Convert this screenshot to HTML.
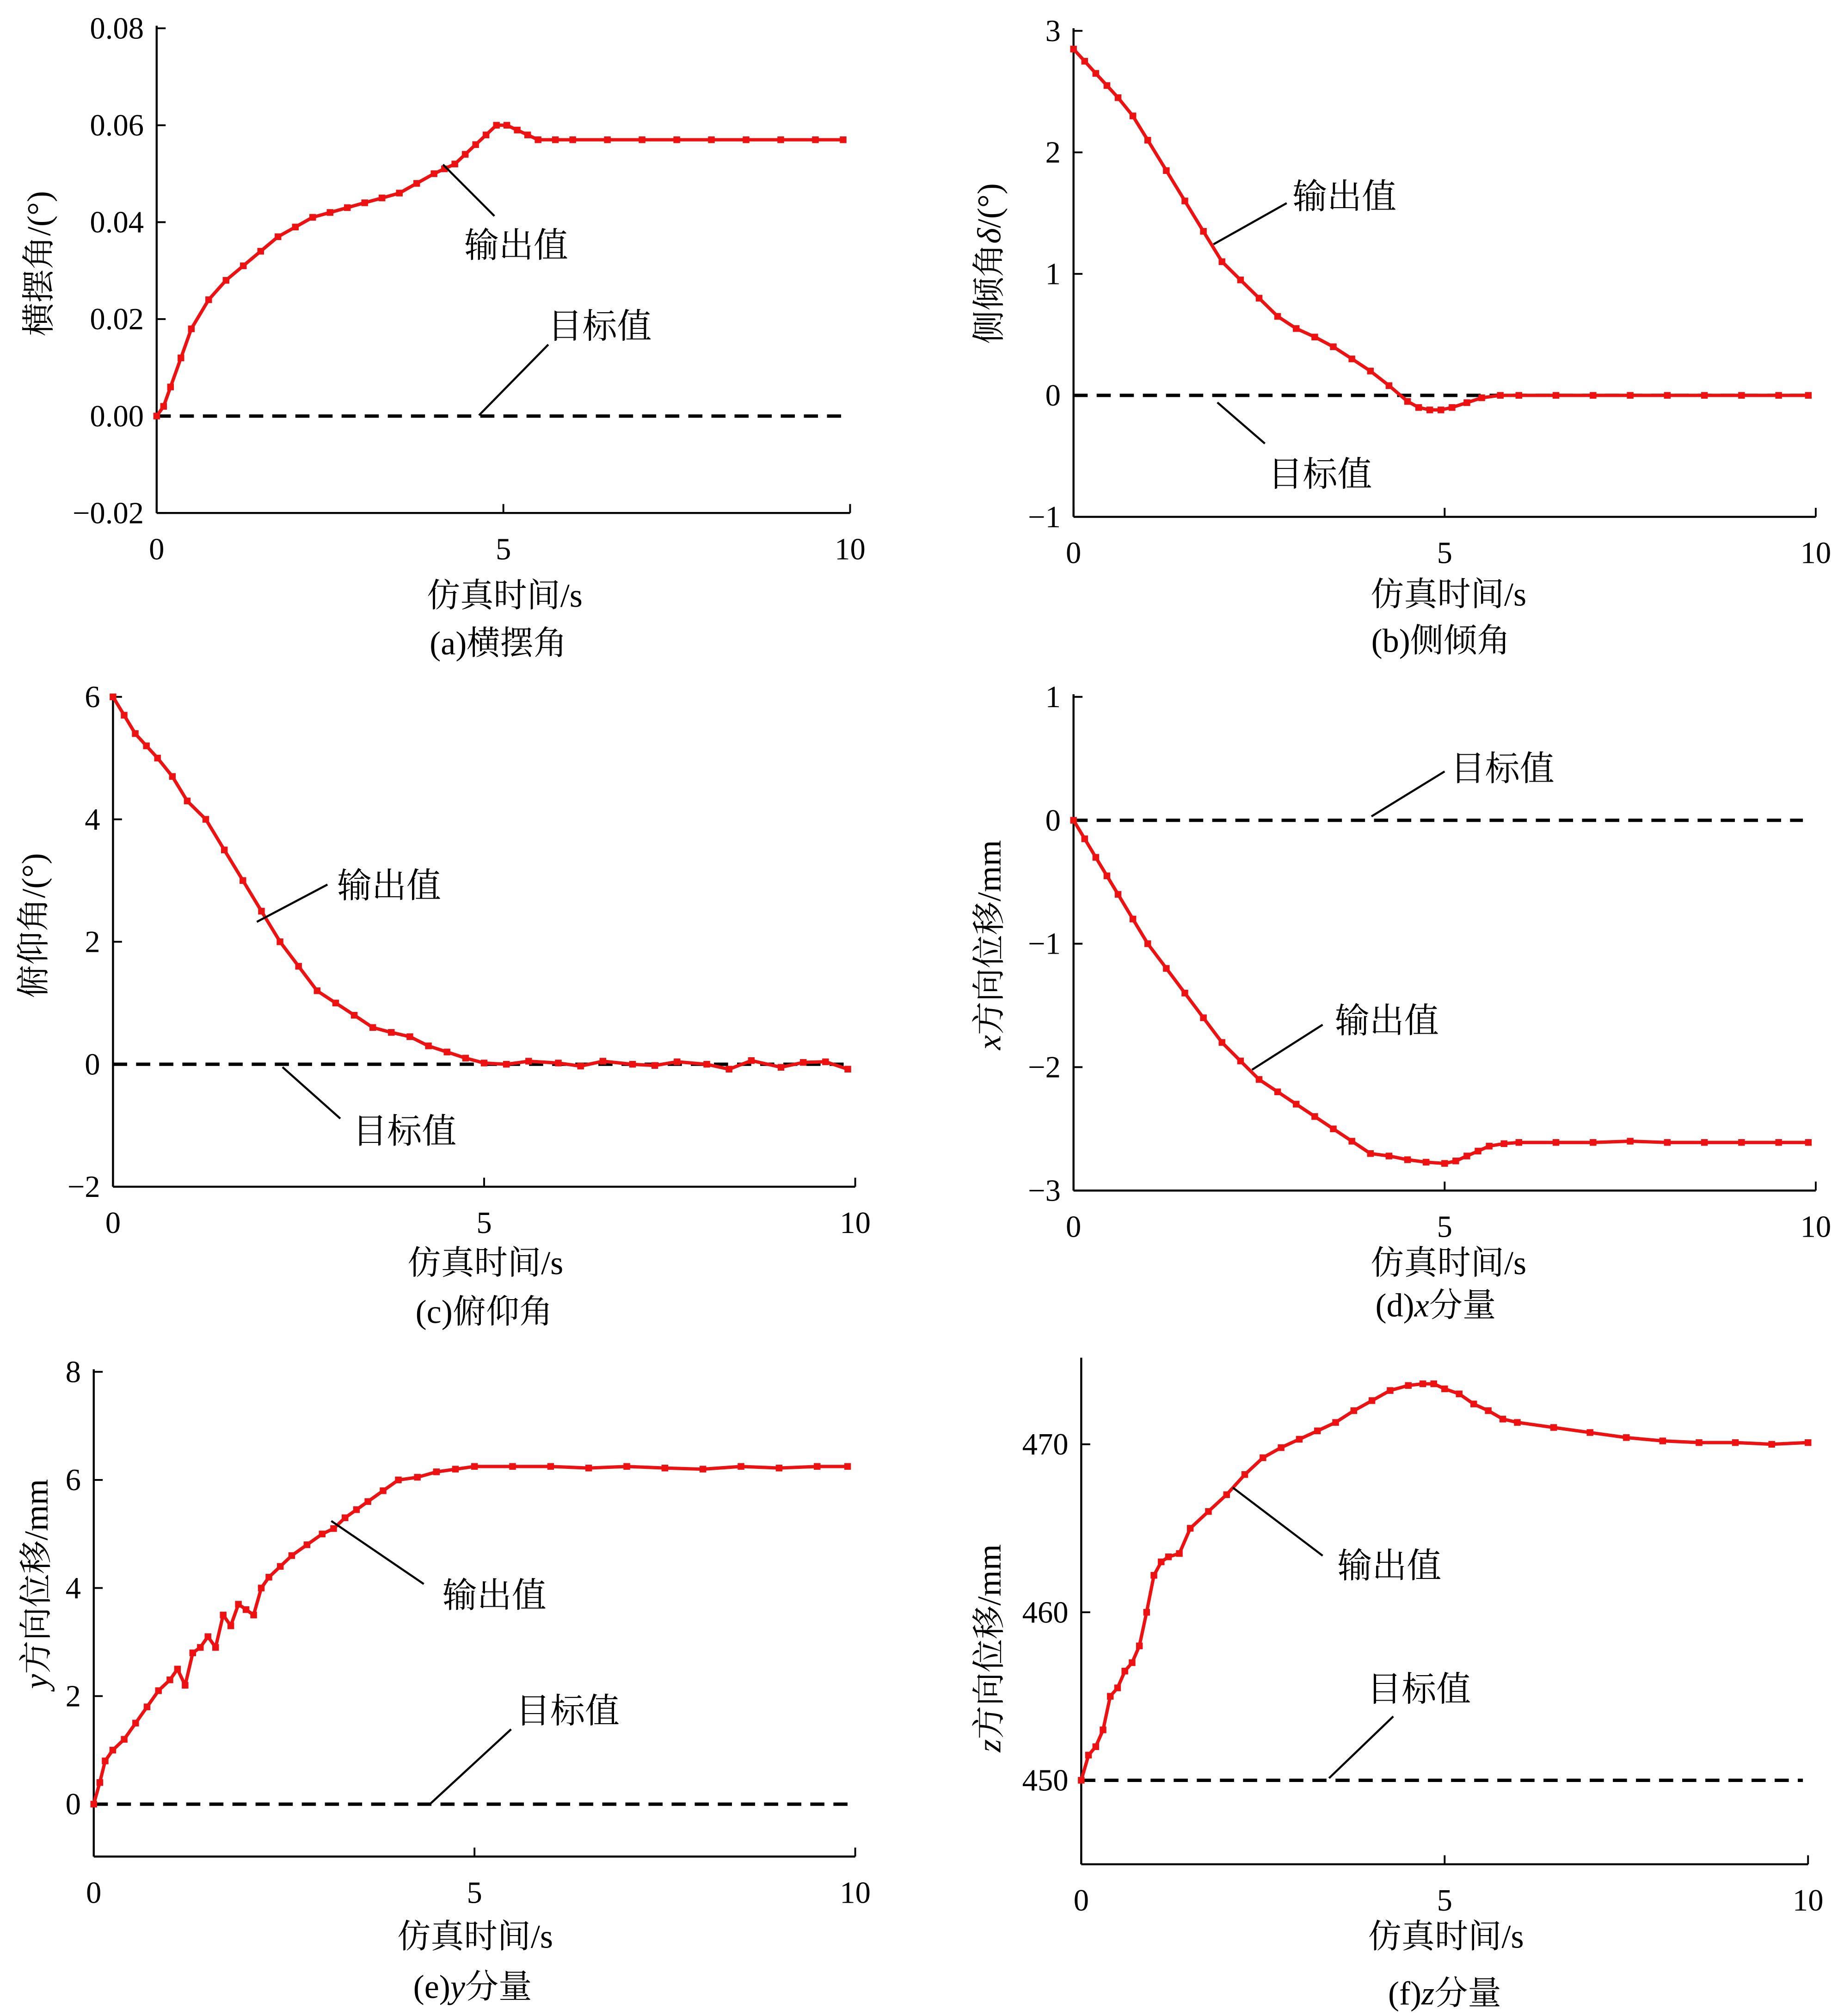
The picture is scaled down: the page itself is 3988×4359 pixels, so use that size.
<!DOCTYPE html>
<html><head><meta charset="utf-8">
<style>
html,body{margin:0;padding:0;background:#fff;}
svg{display:block;}
text{font-family:"Liberation Serif","Noto Serif CJK SC",serif;fill:#000;}
</style></head>
<body>
<svg id="chart" width="3988" height="4359" viewBox="0 0 1436 1568" preserveAspectRatio="none" xmlns="http://www.w3.org/2000/svg"></svg>
<script>
// Panel (a) yaw angle
const aT=[0,0.1,0.2,0.35,0.5,0.75,1,1.25,1.5,1.75,2,2.25,2.5,2.75,3,3.25,3.5,3.75,4,4.15,4.3,4.45,4.6,4.75,4.9,5.05,5.2,5.35,5.5,5.75,6,6.5,7,7.5,8,8.5,9,9.5,9.9];
const aV=[0,0.002,0.006,0.012,0.018,0.024,0.028,0.031,0.034,0.037,0.039,0.041,0.042,0.043,0.044,0.045,0.046,0.048,0.050,0.051,0.052,0.054,0.056,0.058,0.060,0.060,0.059,0.058,0.057,0.057,0.057,0.057,0.057,0.057,0.057,0.057,0.057,0.057,0.057];
const aTicksY=[0.08,0.06,0.04,0.02,0,-0.02];
const aTickLabY=["0.08","0.06","0.04","0.02","0.00","\u22120.02"];
// Panel (b) roll angle
const bT=[0,0.15,0.3,0.45,0.6,0.8,1,1.25,1.5,1.75,2,2.25,2.5,2.75,3,3.25,3.5,3.75,4,4.25,4.5,4.65,4.8,4.95,5.1,5.3,5.5,5.75,6,6.5,7,7.5,8,8.5,9,9.5,9.9];
const bV=[2.85,2.75,2.65,2.55,2.45,2.3,2.1,1.85,1.6,1.35,1.1,0.95,0.8,0.65,0.55,0.48,0.4,0.3,0.2,0.08,-0.05,-0.1,-0.12,-0.12,-0.1,-0.06,-0.02,0,0,0,0,0,0,0,0,0,0];
const bTicksY=[3,2,1,0,-1];
const bTickLabY=["3","2","1","0","\u22121"];
// Panel (c) pitch angle
const cT=[0,0.15,0.3,0.45,0.6,0.8,1,1.25,1.5,1.75,2,2.25,2.5,2.75,3,3.25,3.5,3.75,4,4.25,4.5,4.75,5,5.3,5.6,6,6.3,6.6,7,7.3,7.6,8,8.3,8.6,9,9.3,9.6,9.9];
const cV=[6,5.7,5.4,5.2,5.0,4.7,4.3,4.0,3.5,3.0,2.5,2.0,1.6,1.2,1.0,0.8,0.6,0.52,0.45,0.3,0.2,0.1,0.02,0.0,0.05,0.02,-0.03,0.05,0.0,-0.02,0.04,0.0,-0.08,0.06,-0.05,0.03,0.04,-0.08];
const cTicksY=[6,4,2,0,-2];
const cTickLabY=["6","4","2","0","\u22122"];
// Panel (d) x displacement
const dT=[0,0.15,0.3,0.45,0.6,0.8,1,1.25,1.5,1.75,2,2.25,2.5,2.75,3,3.25,3.5,3.75,4,4.25,4.5,4.75,5,5.15,5.3,5.45,5.6,5.8,6,6.5,7,7.5,8,8.5,9,9.5,9.9];
const dV=[0,-0.15,-0.3,-0.45,-0.6,-0.8,-1.0,-1.2,-1.4,-1.6,-1.8,-1.95,-2.1,-2.2,-2.3,-2.4,-2.5,-2.6,-2.7,-2.72,-2.75,-2.77,-2.78,-2.76,-2.72,-2.68,-2.64,-2.62,-2.61,-2.61,-2.61,-2.6,-2.61,-2.61,-2.61,-2.61,-2.61];
const dTicksY=[1,0,-1,-2,-3];
const dTickLabY=["1","0","\u22121","\u22122","\u22123"];
// Panel (e) y displacement
const eT=[0,0.08,0.15,0.25,0.4,0.55,0.7,0.85,1,1.1,1.2,1.3,1.4,1.5,1.6,1.7,1.8,1.9,2,2.1,2.2,2.3,2.45,2.6,2.8,3,3.15,3.3,3.45,3.6,3.8,4,4.25,4.5,4.75,5,5.5,6,6.5,7,7.5,8,8.5,9,9.5,9.9];
const eV=[0,0.4,0.8,1.0,1.2,1.5,1.8,2.1,2.3,2.5,2.2,2.8,2.9,3.1,2.9,3.5,3.3,3.7,3.6,3.5,4.0,4.2,4.4,4.6,4.8,5.0,5.1,5.3,5.45,5.6,5.8,6.0,6.05,6.15,6.2,6.25,6.25,6.25,6.22,6.25,6.22,6.2,6.25,6.22,6.25,6.25];
const eTicksY=[8,6,4,2,0];
const eTickLabY=["8","6","4","2","0"];
// Panel (f) z displacement
const fT=[0,0.1,0.2,0.3,0.4,0.5,0.6,0.7,0.8,0.9,1,1.1,1.2,1.35,1.5,1.75,2,2.25,2.5,2.75,3,3.25,3.5,3.75,4,4.25,4.5,4.7,4.85,5,5.2,5.4,5.6,5.8,6,6.5,7,7.5,8,8.5,9,9.5,10];
const fV=[450,451.5,452,453,455,455.5,456.5,457,458,460,462.2,463,463.3,463.5,465,466,467,468.2,469.2,469.8,470.3,470.8,471.3,472,472.6,473.2,473.5,473.6,473.6,473.3,473,472.4,472,471.5,471.3,471,470.7,470.4,470.2,470.1,470.1,470,470.1];
const fTicksY=[470,460,450];
const fTickLabY=["470","460","450"];
const xTicks=[0,5,10];

const NS="http://www.w3.org/2000/svg";
const svg=document.getElementById('chart');
function mk(tag,attrs,parent){const e=document.createElementNS(NS,tag);for(const k in attrs)e.setAttribute(k,attrs[k]);(parent||svg).appendChild(e);return e;}
function addParts(t,parts){parts.forEach(pt=>{const s=document.createElementNS(NS,'tspan');s.textContent=pt[0];if(pt[1])s.setAttribute('font-style','italic');t.appendChild(s);});}

const panels=[
 {id:'a',T:aT,V:aV,ty:aTicksY,tl:aTickLabY,x0:122,x1:662,ax:662,yTop:0.08,yBot:-0.02,pTop:22,pBot:399,target:0,
  ylab:[['横摆角/(°)',0]],ylx:30,yly:205,xlab:[393,463],cap:[['(a)横摆角',0]],capxy:[388,500],
  out:{t:[402,190],l:[345,128,385,168]},tg:{t:[467,253],l:[373,323,427,268]},tgEnd:657},
 {id:'b',T:bT,V:bV,ty:bTicksY,tl:bTickLabY,x0:836,x1:1414,ax:1414,yTop:3,yBot:-1,pTop:24,pBot:402,target:0,
  ylab:[['侧倾角',0],['δ',1],['/(°)',0]],ylx:770,yly:205,xlab:[1128,462],cap:[['(b)侧倾角',0]],capxy:[1122,498],
  out:{t:[1047,152],l:[945,190,1002,158]},tg:{t:[1028,368],l:[948,313,985,345]},tgEnd:1408},
 {id:'c',T:cT,V:cV,ty:cTicksY,tl:cTickLabY,x0:88,x1:666,ax:666,yTop:6,yBot:-2,pTop:542,pBot:923,target:0,
  ylab:[['俯仰角/(°)',0]],ylx:26,yly:720,xlab:[378,982],cap:[['(c)俯仰角',0]],capxy:[377,1020],
  out:{t:[303,688],l:[200,717,255,688]},tg:{t:[315,879],l:[220,830,265,870]},tgEnd:660},
 {id:'d',T:dT,V:dV,ty:dTicksY,tl:dTickLabY,x0:836,x1:1414,ax:1414,yTop:1,yBot:-3,pTop:542,pBot:926,target:0,
  ylab:[['x',1],['方向位移/mm',0]],ylx:770,yly:735,xlab:[1128,982],cap:[['(d)',0],['x',1],['分量',0]],capxy:[1118,1015],
  out:{t:[1080,793],l:[975,832,1030,797]},tg:{t:[1170,597],l:[1068,635,1125,600]},tgEnd:1404},
 {id:'e',T:eT,V:eV,ty:eTicksY,tl:eTickLabY,x0:73,x1:666,ax:666,yTop:8,yBot:-0.97,pTop:1067,pBot:1444,target:0,
  ylab:[['y',1],['方向位移/mm',0]],ylx:28,yly:1232,xlab:[370,1506],cap:[['(e)',0],['y',1],['分量',0]],capxy:[368,1545],
  out:{t:[385,1240],l:[258,1183,330,1232]},tg:{t:[442,1330],l:[335,1403,398,1345]},tgEnd:660},
 {id:'f',T:fT,V:fV,ty:fTicksY,tl:fTickLabY,x0:842,x1:1408,ax:1408,yTop:475,yBot:445,pTop:1058,pBot:1450,target:450,
  ylab:[['z',1],['方向位移/mm',0]],ylx:770,yly:1282,xlab:[1126,1506],cap:[['(f)',0],['z',1],['分量',0]],capxy:[1125,1550],
  out:{t:[1082,1217],l:[960,1157,1030,1210]},tg:{t:[1105,1313],l:[1035,1383,1085,1335]},tgEnd:1404}
];

panels.forEach(p=>{
  const g=mk('g',{});
  
  
  const xs=t=>p.x0+(p.x1-p.x0)*t/10;
  const ys=v=>p.pTop+(p.pBot-p.pTop)*(p.yTop-v)/(p.yTop-p.yBot);
  const ya=mk('line',{x1:p.x0,y1:p.pTop-2,x2:p.x0,y2:p.pBot,stroke:'#000','stroke-width':1.6},g);
  
  
  const xa=mk('line',{x1:p.x0,y1:p.pBot,x2:p.ax,y2:p.pBot,stroke:'#000','stroke-width':1.6},g);
  
  
  p.ty.forEach((v,i)=>{
    const y=ys(v);
    mk('line',{x1:p.x0,y1:y,x2:p.x0+7,y2:y,stroke:'#000','stroke-width':1.4},g);
    const t=mk('text',{x:p.x0-10,y:y+8,'text-anchor':'end','font-size':24},g);
    t.textContent=p.tl[i];
    
    
  });
  xTicks.forEach(v=>{
    const x=xs(v);
    mk('line',{x1:x,y1:p.pBot,x2:x,y2:p.pBot-7,stroke:'#000','stroke-width':1.4},g);
    const t=mk('text',{x:x,y:p.pBot+36,'text-anchor':'middle','font-size':24},g);
    t.textContent=String(v);
    
    
  });
  const tl=mk('line',{x1:p.x0,y1:ys(p.target),x2:p.tgEnd,y2:ys(p.target),stroke:'#000','stroke-width':2.6,'stroke-dasharray':'11 7'},g);
  
  
  const pts=p.T.map((t,i)=>xs(t).toFixed(1)+','+ys(p.V[i]).toFixed(1)).join(' ');
  const pl=mk('polyline',{points:pts,fill:'none',stroke:'#ee1111','stroke-width':2.6,'stroke-linejoin':'round'},g);
  
  
  p.T.forEach((t,i)=>{
    const c=mk('rect',{x:xs(t)-2.6,y:ys(p.V[i])-2.6,width:5.2,height:5.2,fill:'#ee1111'},g);
    
    
  });
  [['out','输出值','output-label'],['tg','目标值','target-label']].forEach(a=>{
    const o=p[a[0]];
    const l=mk('line',{x1:o.l[0],y1:o.l[1],x2:o.l[2],y2:o.l[3],stroke:'#000','stroke-width':1.6},g);
    
    
    const t=mk('text',{x:o.t[0],y:o.t[1]+10,'text-anchor':'middle','font-size':27},g);
    t.textContent=a[1];
    
    
  });
  const yt=mk('text',{x:p.ylx,y:p.yly+9,'text-anchor':'middle','font-size':26,transform:'rotate(-90 '+p.ylx+' '+p.yly+')'},g);
  addParts(yt,p.ylab);
  
  
  const xt=mk('text',{x:p.xlab[0],y:p.xlab[1]+9,'text-anchor':'middle','font-size':26},g);
  xt.textContent='仿真时间/s';
  
  
  const cp=mk('text',{x:p.capxy[0],y:p.capxy[1]+9,'text-anchor':'middle','font-size':26},g);
  addParts(cp,p.cap);
  
  
});
</script>
</body></html>
